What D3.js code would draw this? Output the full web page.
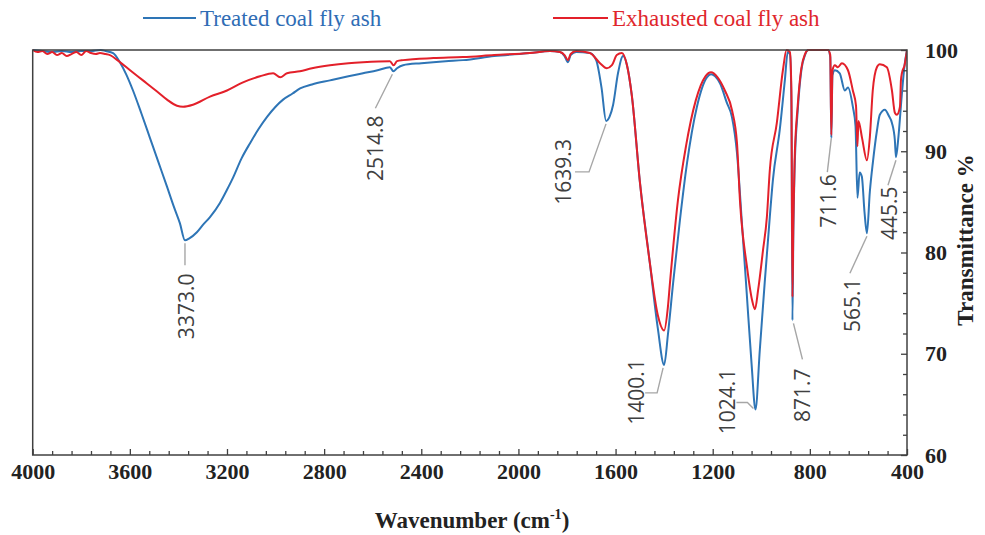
<!DOCTYPE html>
<html><head><meta charset="utf-8">
<script src="https://cdn.jsdelivr.net/npm/d3@7"></script>
<style>body{margin:0;background:#fff}</style>
</head><body><svg id="c" width="985" height="535"></svg>
<script>
// ---------- data ----------
const seriesNames = ["Treated coal fly ash", "Exhausted coal fly ash"];
const xMajorTicks = [4000,3600,3200,2800,2400,2000,1600,1200,800,400];
const yMajorTicks = [60,70,80,90,100];

// [wavenumber cm-1, transmittance %]
const treated = [
 [4000,100],[3960,99.9],[3920,99.8],[3880,99.9],[3840,99.8],[3800,99.9],[3760,99.9],[3720,100],[3700,99.9],
 [3669,99.7],[3641,98.8],[3615,97.6],[3587,96.0],[3552,93.7],[3517,91.3],[3482,88.9],[3447,86.5],[3420,84.6],
 [3394,82.9],[3373,81.2],[3355,81.4],[3324,82.0],[3300,82.7],[3270,83.5],[3229,84.9],[3200,86.2],[3175,87.4],
 [3140,89.3],[3105,90.8],[3070,92.2],[3035,93.4],[3000,94.4],[2969,95.1],[2930,95.7],[2899,96.2],[2850,96.6],
 [2776,97.0],[2700,97.4],[2640,97.7],[2580,98.0],[2529,98.3],[2515,97.9],[2500,98.2],[2475,98.5],[2400,98.7],
 [2300,98.9],[2228,99.0],[2100,99.4],[1953,99.7],[1870,99.9],[1829,99.8],[1810,99.4],[1796,98.8],[1785,99.5],
 [1762,99.8],[1706,99.7],[1680,99.0],[1658,96.3],[1639,93.0],[1625,93.4],[1610,94.6],[1590,97.7],[1569,99.4],
 [1553,98.5],[1533,95.5],[1500,87.0],[1459,79.0],[1426,72.5],[1400,68.9],[1384,72.0],[1363,77.0],[1335,83.2],
 [1306,88.8],[1265,94.4],[1224,97.3],[1207,97.6],[1190,97.4],[1170,96.7],[1142,94.8],[1121,93.4],[1100,89.8],
 [1080,83.0],[1060,76.0],[1040,69.0],[1024,64.5],[1006,70.4],[986,77.0],[965,83.5],[952,87.2],[924,92.1],
 [903,97.0],[891,99.8],[882,99.6],[876,95.0],[871.7,73.3],[868,82.0],[863,88.0],[850,94.0],[835,98.0],
 [820,99.5],[806,100],[760,100],[725,100],[716,99.3],[711.6,91.3],[707,97.5],[697,98.0],[677,97.7],[656,96.0],
 [643,96.3],[623,94.4],[612,92.5],[604,85.4],[595,87.9],[586,87.5],[575,84.0],[565,81.9],[553,86.0],[540,89.0],
 [524,92.0],[512,93.6],[491,94.1],[475,93.5],[462,92.8],[450,91.1],[445.5,89.4],[435,91.5],[422,95.4],
 [410,98.5],[400,100]
];
const exhausted = [
 [4000,100],[3980,99.8],[3960,99.9],[3940,99.6],[3920,99.8],[3900,99.5],[3880,99.7],[3860,99.4],[3840,99.6],
 [3820,99.8],[3800,99.5],[3780,99.9],[3760,99.7],[3740,99.6],[3723,99.7],[3700,99.6],[3682,99.5],[3641,98.8],
 [3599,98.0],[3546,97.0],[3488,95.9],[3447,95.1],[3406,94.5],[3381,94.4],[3340,94.6],[3270,95.4],[3200,96.0],
 [3134,96.8],[3064,97.4],[3010,97.7],[2981,97.3],[2953,97.7],[2900,97.9],[2850,98.2],[2776,98.5],[2700,98.7],
 [2640,98.8],[2529,98.9],[2514,98.5],[2500,98.9],[2475,99.0],[2350,99.2],[2228,99.3],[2100,99.5],[1953,99.7],
 [1870,99.9],[1829,99.8],[1810,99.5],[1796,99.0],[1785,99.6],[1762,99.9],[1706,99.7],[1664,98.7],[1636,98.2],
 [1615,98.5],[1595,99.5],[1574,99.7],[1553,98.5],[1533,95.5],[1500,87.0],[1459,79.0],[1426,73.8],[1400,72.3],
 [1385,74.5],[1376,77.0],[1343,85.2],[1310,90.5],[1270,95.0],[1230,97.4],[1207,97.8],[1180,97.3],[1150,96.0],
 [1120,94.0],[1100,90.8],[1088,85.2],[1059,78.6],[1038,75.3],[1026,74.4],[1013,76.3],[993,80.2],[977,83.5],
 [965,88.1],[936,92.8],[911,98.0],[896,100],[882,99.8],[876,96.0],[871.7,75.6],[868,83.0],[863,89.0],[850,94.5],
 [835,98.2],[820,99.6],[806,100],[760,100],[725,100],[716,99.5],[711.6,91.6],[707,98.0],[697,98.5],[685,98.3],
 [668,98.7],[643,98.0],[623,96.0],[610,94.5],[604,90.5],[600,93.0],[585,91.3],[565,89.1],[553,91.4],[541,96.0],
 [524,98.3],[512,98.6],[483,98.3],[462,96.0],[450,93.8],[442,93.6],[429,94.4],[425,97.0],[421,97.7],[410,98.5],
 [400,100]
];
const peakLabels = ["3373.0","2514.8","1639.3","1400.1","1024.1","871.7","711.6","565.1","445.5"];
const peakWn = [3373.0,2514.8,1639.3,1400.1,1024.1,871.7,711.6,565.1,445.5];
const peakT  = [81.2,97.9,93.0,68.9,64.5,73.3,91.6,81.9,89.4];

// ---------- layout (pixels) ----------
const L = 32.7, R = 907, T = 50, B = 455;
// leader path offsets and label-centre offsets relative to the peak point
const annoLayout = [
  {path:[[0,3],[0,25]], label:[1,66]},
  {path:[[-1,3],[-18,37]], label:[-18,77]},
  {path:[[0,3],[-17,51],[-31,51]], label:[-43,51]},
  {path:[[-1,3],[-7,28],[-19,28]], label:[-28,27]},
  {path:[[-2,-1],[-8,-7],[-19,-7]], label:[-28,-8]},
  {path:[[1,3],[10,39]], label:[10,75]},
  {path:[[0,3],[-4,37]], label:[-3,66]},
  {path:[[0,3],[-17,40]], label:[-15,72]},
  {path:[[0,3],[-8,28]], label:[-7,56]}
];
const colBlue = "#2e75b6", colRed = "#e3202a";

const svg = d3.select("#c");
const x = d3.scaleLinear().domain([4000,400]).range([L,R]);
const y = d3.scaleLinear().domain([60,100]).range([B,T]);

svg.append("defs").append("clipPath").attr("id","clip")
  .append("rect").attr("x",L).attr("y",T-1).attr("width",R-L).attr("height",B-T+1);

// curves
const line = d3.line().x(d=>x(d[0])).y(d=>y(d[1])).curve(d3.curveMonotoneX);
const g = svg.append("g").attr("clip-path","url(#clip)");
g.append("path").datum(treated).attr("d",line).attr("fill","none").attr("stroke",colBlue).attr("stroke-width",2);
g.append("path").datum(exhausted).attr("d",line).attr("fill","none").attr("stroke",colRed).attr("stroke-width",2);

// frame
svg.append("rect").attr("x",L).attr("y",T).attr("width",R-L).attr("height",B-T)
  .attr("fill","none").attr("stroke","#404040").attr("stroke-width",1.5);

// x axis
const xMinor = d3.range(4000,399,-80).filter(v=>v%400!==0);
const axFont = "Liberation Serif";
svg.append("g").attr("transform",`translate(0,${B})`)
  .call(d3.axisBottom(x).tickValues(xMinor).tickSize(-4).tickFormat(""))
  .call(a=>a.select(".domain").remove())
  .call(a=>a.selectAll("line").attr("stroke","#404040").attr("stroke-width",1.3));
svg.append("g").attr("transform",`translate(0,${B})`)
  .call(d3.axisBottom(x).tickValues(xMajorTicks).tickSize(-6).tickPadding(8).tickFormat(d3.format("d")))
  .call(a=>a.select(".domain").remove())
  .call(a=>a.selectAll("line").attr("stroke","#404040").attr("stroke-width",1.3))
  .call(a=>a.selectAll("text").attr("font-family",axFont).attr("font-weight","bold").attr("font-size",22).attr("fill","#222"));

// y axis (right)
const yMinor = d3.range(62,100,2).filter(v=>v%10!==0);
svg.append("g").attr("transform",`translate(${R},0)`)
  .call(d3.axisRight(y).tickValues(yMinor).tickSize(-4).tickFormat(""))
  .call(a=>a.select(".domain").remove())
  .call(a=>a.selectAll("line").attr("stroke","#404040").attr("stroke-width",1.3));
svg.append("g").attr("transform",`translate(${R},0)`)
  .call(d3.axisRight(y).tickValues(yMajorTicks).tickSize(-6).tickPadding(18).tickFormat(d3.format("d")))
  .call(a=>a.select(".domain").remove())
  .call(a=>a.selectAll("line").attr("stroke","#404040").attr("stroke-width",1.3))
  .call(a=>a.selectAll("text").attr("font-family",axFont).attr("font-weight","bold").attr("font-size",22).attr("fill","#222"));

// axis titles
const xt = svg.append("text").attr("x",472).attr("y",528).attr("text-anchor","middle")
  .attr("font-family",axFont).attr("font-weight","bold").attr("font-size",23).attr("fill","#222");
xt.append("tspan").text("Wavenumber (cm");
xt.append("tspan").attr("dy",-9).attr("font-size",14).text("-1");
xt.append("tspan").attr("dy",9).text(")");
svg.append("text").attr("transform","translate(973,240) rotate(-90)").attr("text-anchor","middle")
  .attr("font-family",axFont).attr("font-weight","bold").attr("font-size",23).attr("fill","#222")
  .text("Transmittance %");

// legend
const legend = [
  {name:seriesNames[0], color:colBlue, text:"#2f6db5", x0:143, x1:196, tx:200},
  {name:seriesNames[1], color:colRed, text:"#e0262c", x0:553, x1:608, tx:612}
];
legend.forEach(l=>{
  svg.append("line").attr("x1",l.x0).attr("x2",l.x1).attr("y1",18).attr("y2",18)
    .attr("stroke",l.color).attr("stroke-width",2);
  svg.append("text").attr("x",l.tx).attr("y",26).attr("font-family",axFont)
    .attr("font-size",23).attr("fill",l.text).text(l.name);
});

// peak annotations
peakWn.forEach((wn,i)=>{
  const px = x(wn), py = y(peakT[i]);
  const lay = annoLayout[i];
  svg.append("path").attr("d", d3.line()(lay.path.map(p=>[px+p[0],py+p[1]])))
    .attr("fill","none").attr("stroke","#a6a6a6").attr("stroke-width",1.4);
  svg.append("text")
    .attr("transform",`translate(${px+lay.label[0]},${py+lay.label[1]}) rotate(-90)`)
    .attr("text-anchor","middle").attr("dominant-baseline","central")
    .attr("font-family","Open Sans").attr("font-size",21).attr("fill","#404040")
    .text(peakLabels[i]);
});
</script>
</body></html>
